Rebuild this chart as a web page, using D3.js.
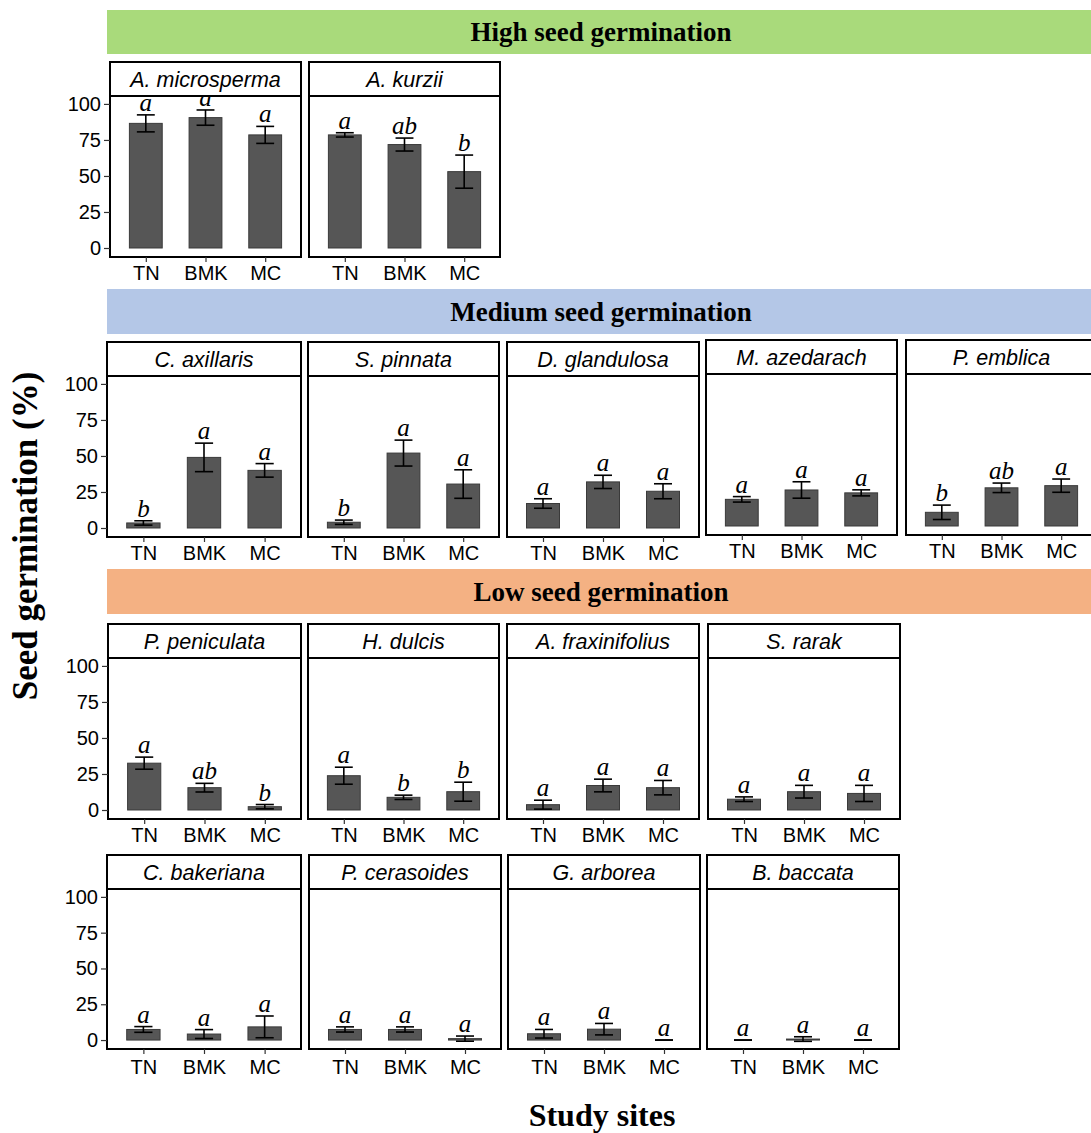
<!DOCTYPE html>
<html>
<head>
<meta charset="utf-8">
<script src="https://cdn.jsdelivr.net/npm/d3@7"></script>
<style>
  body { margin: 0; background: #fff; }
  svg { display: block; }
</style>
</head>
<body>
<script>
// ---- data -------------------------------------------------------------
const sites = ["TN", "BMK", "MC"];
const yTicks = [0, 25, 50, 75, 100];
const groupTitles = ["High seed germination", "Medium seed germination", "Low seed germination"];

const species = [
  "A. microsperma", "A. kurzii",
  "C. axillaris", "S. pinnata", "D. glandulosa", "M. azedarach", "P. emblica",
  "P. peniculata", "H. dulcis", "A. fraxinifolius", "S. rarak",
  "C. bakeriana", "P. cerasoides", "G. arborea", "B. baccata"
];

// mean germination (%) per site: TN, BMK, MC
const meanGermination = [
  [86.5, 90.5, 78.5], [78.5, 71.8, 53.0],
  [3.5, 49.0, 40.0], [4.0, 52.0, 30.5], [17.0, 32.0, 25.5], [18.5, 25.0, 23.0], [9.5, 26.5, 28.0],
  [32.5, 15.5, 2.3], [23.8, 8.8, 12.7], [3.7, 17.0, 15.5], [7.5, 12.7, 11.5],
  [7.4, 4.2, 9.2], [7.4, 7.4, 1.0], [4.4, 7.6, 0.0], [0.0, 0.7, 0.0]
];

// standard error per site
const seGermination = [
  [5.9, 5.3, 5.9], [1.5, 4.5, 11.5],
  [1.5, 9.9, 4.7], [1.5, 9.0, 9.9], [3.3, 4.6, 5.2], [1.9, 5.7, 2.1], [5.0, 3.3, 4.6],
  [4.2, 3.0, 1.5], [5.9, 1.5, 6.6], [3.1, 4.4, 5.0], [1.6, 4.4, 5.6],
  [2.0, 3.1, 7.6], [1.8, 1.8, 1.8], [3.0, 4.0, 0.0], [0.0, 1.6, 0.0]
];

// significance letters per site
const letters = [
  ["a", "a", "a"], ["a", "ab", "b"],
  ["b", "a", "a"], ["b", "a", "a"], ["a", "a", "a"], ["a", "a", "a"], ["b", "ab", "a"],
  ["a", "ab", "b"], ["a", "b", "b"], ["a", "a", "a"], ["a", "a", "a"],
  ["a", "a", "a"], ["a", "a", "a"], ["a", "a", "a"], ["a", "a", "a"]
];

// ---- layout -----------------------------------------------------------
const W = 1091, H = 1133;
const SANS = "'Liberation Sans', Arial, sans-serif";
const SERIF = "'Liberation Serif', 'Times New Roman', serif";

const bandBoxes = [
  { x0: 107, y: 10,  h: 44, fill: "#a9da7b", ty: 41 },
  { x0: 107, y: 289, h: 45, fill: "#b4c7e7", ty: 321 },
  { x0: 107, y: 569, h: 45, fill: "#f4b183", ty: 601 }
];

const stripH = 34;
const rows = [
  { stripTop: 62,  bottom: 257,  labelGap: 23 },
  { stripTop: 342, bottom: 537,  labelGap: 23 },
  { stripTop: 624, bottom: 819,  labelGap: 23 },
  { stripTop: 855, bottom: 1049, labelGap: 25 }
];

// row, left, right, vertical nudge for each facet
const panelRow = [0, 0, 1, 1, 1, 1, 1, 2, 2, 2, 2, 3, 3, 3, 3];
const panelX = [
  [110, 301], [309, 500],
  [107, 301], [308, 499], [507, 699], [706, 897], [906, 1097],
  [108, 301], [308, 499], [507, 699], [708, 900],
  [107, 301], [309, 501], [508, 700], [707, 899]
];
const panelDy = [0, 0, 0, 0, 0, -2, -2, 0, 0, 0, 0, 0, 0, 0, 0];

const svg = d3.select("body").append("svg")
  .attr("width", W).attr("height", H)
  .attr("viewBox", `0 0 ${W} ${H}`);
const defs = svg.append("defs");

// group banners
bandBoxes.forEach((b, i) => {
  svg.append("rect")
    .attr("x", b.x0).attr("y", b.y)
    .attr("width", W - b.x0).attr("height", b.h)
    .attr("fill", b.fill);
  svg.append("text")
    .attr("x", (b.x0 + W) / 2 + 2).attr("y", b.ty)
    .attr("text-anchor", "middle")
    .attr("font-family", SERIF).attr("font-weight", "bold")
    .attr("font-size", 27).attr("fill", "#000")
    .text(groupTitles[i]);
});

// facets
species.forEach((name, k) => {
  const r = rows[panelRow[k]];
  const dy = panelDy[k];
  const [x0, x1] = panelX[k];
  const top = r.stripTop + dy;
  const plotTop = top + stripH;
  const bottom = r.bottom + dy;

  const x = d3.scalePoint().domain(sites).range([x0, x1]).padding(0.6);
  const step = x.step();
  const barW = step * 0.55;
  const capW = step * 0.3;
  const y = d3.scaleLinear().domain([-6.25, 105.5]).range([bottom, plotTop]);

  // plotting area clip (letters near the top are cut by the strip)
  const clipId = "clip" + k;
  defs.append("clipPath").attr("id", clipId)
    .append("rect")
    .attr("x", x0).attr("y", plotTop)
    .attr("width", x1 - x0).attr("height", bottom - plotTop);

  const g = svg.append("g");
  const inner = g.append("g").attr("clip-path", `url(#${clipId})`);

  const rowsData = sites.map((s, i) => ({
    site: s,
    mean: meanGermination[k][i],
    se: seGermination[k][i],
    letter: letters[k][i]
  }));

  // bars
  inner.selectAll("rect.bar").data(rowsData).enter().append("rect")
    .attr("class", "bar")
    .attr("x", d => x(d.site) - barW / 2)
    .attr("width", barW)
    .attr("y", d => y(d.mean))
    .attr("height", d => Math.max(0, y(0) - y(d.mean)))
    .attr("fill", "#565656")
    .attr("stroke", "#3a3a3a")
    .attr("stroke-width", 1);

  // error bars
  const eb = inner.selectAll("g.err").data(rowsData).enter().append("g")
    .attr("class", "err")
    .attr("stroke", "#000").attr("stroke-width", 1.6);
  eb.append("line")
    .attr("x1", d => x(d.site)).attr("x2", d => x(d.site))
    .attr("y1", d => y(d.mean + d.se)).attr("y2", d => y(d.mean - d.se));
  eb.append("line")
    .attr("x1", d => x(d.site) - capW / 2).attr("x2", d => x(d.site) + capW / 2)
    .attr("y1", d => y(d.mean + d.se)).attr("y2", d => y(d.mean + d.se));
  eb.append("line")
    .attr("x1", d => x(d.site) - capW / 2).attr("x2", d => x(d.site) + capW / 2)
    .attr("y1", d => y(d.mean - d.se)).attr("y2", d => y(d.mean - d.se));

  // significance letters
  inner.selectAll("text.sig").data(rowsData).enter().append("text")
    .attr("class", "sig")
    .attr("x", d => x(d.site))
    .attr("y", d => y(d.mean + d.se) - 4)
    .attr("text-anchor", "middle")
    .attr("font-family", SERIF).attr("font-style", "italic")
    .attr("font-size", 25).attr("fill", "#000")
    .text(d => d.letter);

  // strip header
  g.append("rect")
    .attr("x", x0).attr("y", top)
    .attr("width", x1 - x0).attr("height", stripH)
    .attr("fill", "#fff").attr("stroke", "#000").attr("stroke-width", 2);
  g.append("text")
    .attr("x", (x0 + x1) / 2).attr("y", top + stripH / 2 + 7.5)
    .attr("text-anchor", "middle")
    .attr("font-family", SANS).attr("font-style", "italic")
    .attr("font-size", 21.5).attr("fill", "#000")
    .text(name);

  // panel border
  g.append("rect")
    .attr("x", x0).attr("y", plotTop)
    .attr("width", x1 - x0).attr("height", bottom - plotTop)
    .attr("fill", "none").attr("stroke", "#000").attr("stroke-width", 2);

  // x axis
  const xAxis = g.append("g")
    .attr("transform", `translate(0,${bottom})`)
    .call(d3.axisBottom(x).tickSize(5).tickPadding(r.labelGap - 19.5));
  xAxis.select(".domain").remove();
  xAxis.selectAll(".tick line").attr("stroke", "#333").attr("stroke-width", 1.2);
  xAxis.selectAll(".tick text")
    .attr("font-family", SANS).attr("font-size", 20).attr("fill", "#000");

  // y axis on the first facet of each row
  const firstInRow = panelRow.indexOf(panelRow[k]) === k;
  if (firstInRow) {
    const yAxis = g.append("g")
      .attr("transform", `translate(${x0},0)`)
      .call(d3.axisLeft(y).tickValues(yTicks).tickSize(6).tickPadding(3));
    yAxis.select(".domain").remove();
    yAxis.selectAll(".tick line").attr("stroke", "#333").attr("stroke-width", 1.2);
    yAxis.selectAll(".tick text")
      .attr("font-family", SANS).attr("font-size", 20).attr("fill", "#000");
  }
});

// axis titles
svg.append("text")
  .attr("transform", "translate(37,536) rotate(-90)")
  .attr("text-anchor", "middle")
  .attr("font-family", SERIF).attr("font-weight", "bold")
  .attr("font-size", 35).attr("fill", "#000")
  .text("Seed germination (%)");

svg.append("text")
  .attr("x", 602).attr("y", 1126)
  .attr("text-anchor", "middle")
  .attr("font-family", SERIF).attr("font-weight", "bold")
  .attr("font-size", 32).attr("fill", "#000")
  .text("Study sites");
</script>
</body>
</html>
